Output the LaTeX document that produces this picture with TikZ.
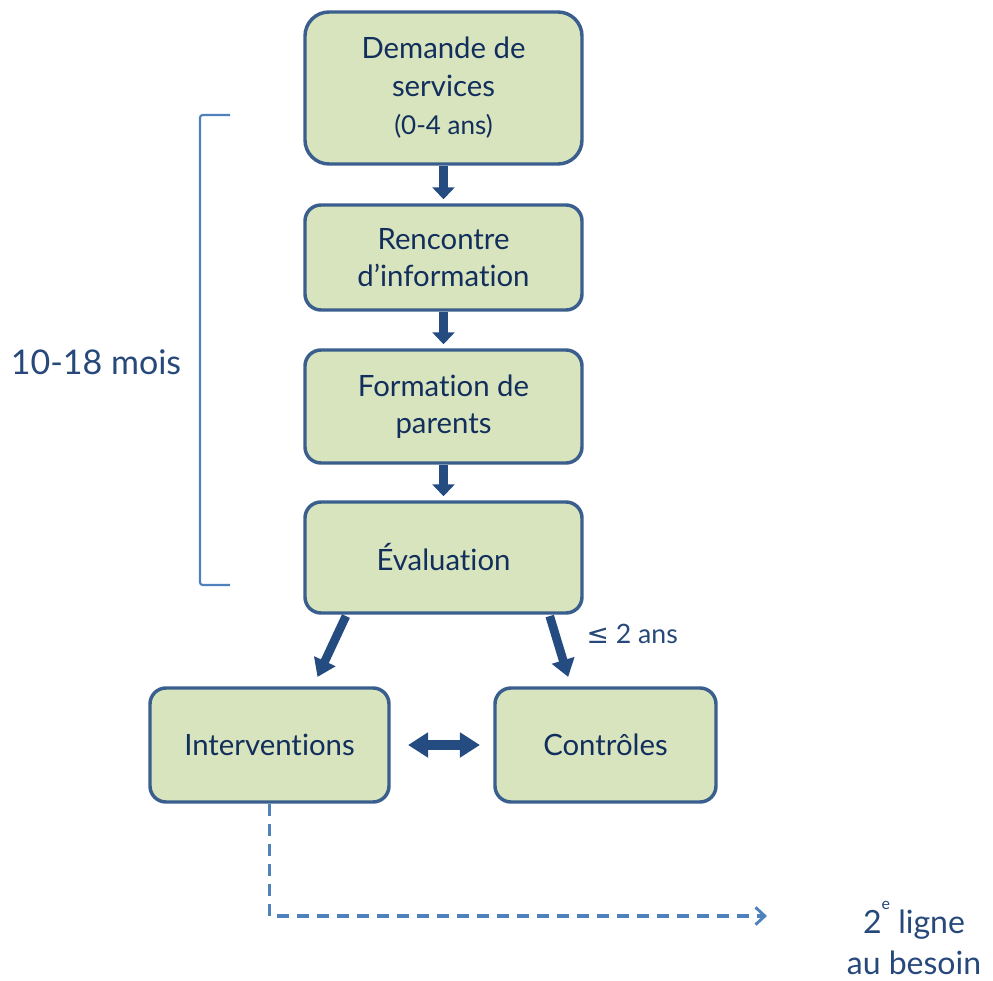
\documentclass[tikz,border=0pt]{standalone}
\usepackage{fontspec}
\setmainfont{Lato}[Ligatures=NoCommon]
\newfontfamily\symf{DejaVu Sans}
\usetikzlibrary{arrows.meta,calc}
\definecolor{boxfill}{HTML}{D7E4BD}
\definecolor{boxline}{HTML}{3A5F8E}
\definecolor{txt}{HTML}{122E5C}
\definecolor{lbl}{HTML}{27487A}
\definecolor{arr}{HTML}{244C80}
\definecolor{light}{HTML}{4F81BD}
\begin{document}
\begin{tikzpicture}[x=0.75pt,y=-0.75pt,
  stage/.style={draw=boxline,fill=boxfill,line width=2.6pt,rounded corners=12pt,
    align=center,text=txt,font=\fontsize{22}{28}\selectfont,inner sep=2pt},
  vflow/.style={draw=arr,line width=6.75pt,-{Triangle[width=16.5pt,length=9pt]}},
  dflow/.style={draw=arr,line width=6.5pt,-{Triangle[width=17pt,length=13pt]}},
  bflow/.style={draw=arr,line width=7pt,{Triangle[width=18pt,length=15pt]}-{Triangle[width=18pt,length=15pt]}},
  dash2/.style={draw=light,line width=2.4pt,dash pattern=on 9pt off 6pt,-{Straight Barb[width=13pt,length=7pt,line width=2.2pt]}},
  outlbl/.style={text=lbl,align=center}]
\useasboundingbox (0,0) rectangle (993,981);
\node[stage,rounded corners=18pt,minimum width=207.75pt,minimum height=114pt] (d) at (443.5,88)
  {Demande de\\services\\[1pt]{\fontsize{19.5}{24}\selectfont (0-4 ans)}};
\node[stage,minimum width=207.75pt,minimum height=78.75pt] (r) at (443.5,257.5) {Rencontre\\d’information};
\node[stage,minimum width=207.75pt,minimum height=84.75pt] (f) at (443.5,406.5) {Formation de\\parents};
\node[stage,minimum width=207.75pt,minimum height=83.25pt] (e) at (443.5,557.5) {Évaluation};
\node[stage,minimum width=179.25pt,minimum height=85.5pt] (i) at (269.5,745) {Interventions};
\node[stage,minimum width=165.75pt,minimum height=85.5pt] (c) at (605.5,745) {Contrôles};

\draw[vflow] (d.south) -- ([yshift=3pt]r.north);
\draw[vflow] (r.south) -- ([yshift=3pt]f.north);
\draw[vflow] (f.south) -- ([yshift=3pt]e.north);

\draw[dflow] ([xshift=32pt,yshift=-1pt]e.south west) -- ([xshift=36pt,yshift=7pt]i.north);
\draw[dflow] ([xshift=-25.5pt,yshift=-1pt]e.south east) -- ([xshift=-28pt,yshift=7pt]c.north);
\draw[bflow,shorten <=13pt,shorten >=10pt] (i.east) -- (c.west);

\node[outlbl,font=\fontsize{20}{24}\selectfont,anchor=west] (le) at (582,634) {{\symf ≤} 2 ans};

\coordinate (bt) at (230,115);
\coordinate (bb) at (230,585);
\draw[light,line width=1.6pt,rounded corners=2pt] (bt) -- ++(-30,0) |- (bb);
\node[outlbl,font=\fontsize{25.5}{28}\selectfont] (mois) at (96,362) {10-18 mois};

\node[outlbl,inner sep=0pt,font=\fontsize{24}{31}\selectfont] (sec) at (914,938) {2\raisebox{0.75em}{\fontsize{12}{12}\selectfont e} ligne\\au besoin};
\coordinate (end) at (767,916);
\draw[dash2] (i.south) |- (end);
\end{tikzpicture}
\end{document}
